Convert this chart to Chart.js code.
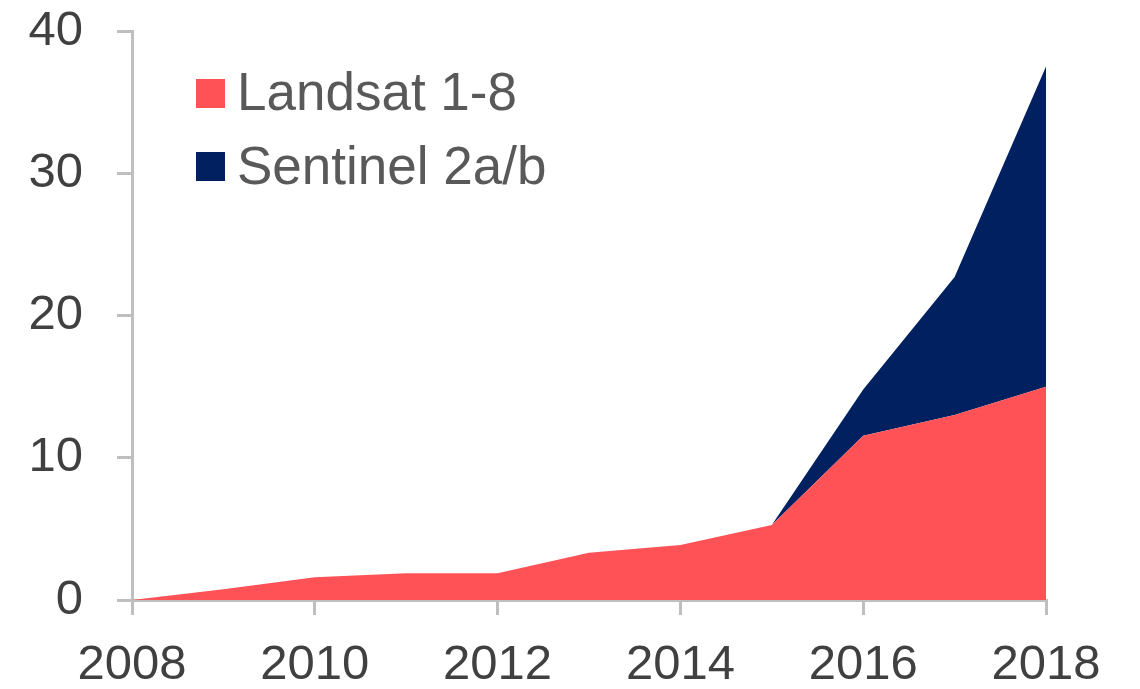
<!DOCTYPE html>
<html>
<head>
<meta charset="utf-8">
<script src="https://cdn.jsdelivr.net/npm/chart.js@4/dist/chart.umd.min.js"></script>
<style>
  html, body { margin: 0; padding: 0; background: #ffffff; }
  #wrap { width: 1140px; height: 689px; position: relative; }
</style>
</head>
<body>
<div id="wrap"><canvas id="c" width="1140" height="689"></canvas></div>
<script>
const years = [2008, 2009, 2010, 2011, 2012, 2013, 2014, 2015, 2016, 2017, 2018];
const landsat = [0, 0.75, 1.6, 1.88, 1.88, 3.33, 3.87, 5.27, 11.55, 13.0, 15.0];
const sentinel = [0, 0, 0, 0, 0, 0, 0, 0, 3.25, 9.7, 22.5];
const seriesNames = ['Landsat 1-8', 'Sentinel 2a/b'];
const seriesColors = ['#FF5257', '#002060'];
const yTicks = [0, 10, 20, 30, 40];
const xTicks = [2008, 2010, 2012, 2014, 2016, 2018];

const FONT = '"Liberation Sans", Arial, sans-serif';
const AXIS = '#BFBFBF';

const legendPlugin = {
  id: 'customLegend',
  afterDraw(chart) {
    const ctx = chart.ctx;
    ctx.save();
    const rows = [{ sq: 79, base: 110 }, { sq: 152, base: 183.5 }];
    chart.data.datasets.forEach((ds, i) => {
      ctx.fillStyle = ds.backgroundColor;
      ctx.fillRect(196, rows[i].sq, 29, 29);
      ctx.fillStyle = '#595959';
      ctx.font = '53px ' + FONT;
      ctx.textBaseline = 'alphabetic';
      ctx.textAlign = 'left';
      ctx.fillText(ds.label, 237, rows[i].base);
    });
    ctx.restore();
  }
};

const ctx = document.getElementById('c').getContext('2d');
new Chart(ctx, {
  type: 'line',
  data: {
    datasets: [
      {
        label: seriesNames[0],
        data: years.map((y, i) => ({ x: y, y: landsat[i] })),
        backgroundColor: seriesColors[0],
        borderColor: seriesColors[0],
        borderWidth: 0,
        pointRadius: 0,
        fill: 'origin',
        tension: 0
      },
      {
        label: seriesNames[1],
        data: years.map((y, i) => ({ x: y, y: sentinel[i] })),
        backgroundColor: seriesColors[1],
        borderColor: seriesColors[1],
        borderWidth: 0,
        pointRadius: 0,
        fill: '-1',
        tension: 0
      }
    ]
  },
  options: {
    responsive: false,
    animation: false,
    devicePixelRatio: 1,
    layout: { padding: { top: 0, right: 94, left: 0, bottom: 0 } },
    plugins: {
      legend: { display: false },
      tooltip: { enabled: false },
      filler: { propagate: false }
    },
    scales: {
      x: {
        type: 'linear',
        z: 1,
        min: 2008,
        max: 2018,
        afterBuildTicks(scale) { scale.ticks = xTicks.map(v => ({ value: v })); },
        afterFit(scale) { scale.height = 89; scale.paddingLeft = 0; scale.paddingRight = 0; },
        border: { display: true, color: AXIS, width: 3 },
        grid: { display: true, drawOnChartArea: false, drawTicks: true, tickLength: 15, color: AXIS, tickColor: AXIS, lineWidth: 3, tickWidth: 3 },
        ticks: {
          color: '#404040',
          font: { family: FONT, size: 49 },
          padding: 21,
          maxRotation: 0,
          autoSkip: false,
          callback: v => String(v)
        }
      },
      y: {
        stacked: true,
        z: 1,
        min: 0,
        max: 40,
        afterBuildTicks(scale) { scale.ticks = yTicks.map(v => ({ value: v })); },
        afterFit(scale) { scale.width = 132; scale.paddingTop = 31; scale.paddingBottom = 0; },
        border: { display: true, color: AXIS, width: 3 },
        grid: { display: true, drawOnChartArea: false, drawTicks: true, tickLength: 15, color: AXIS, tickColor: AXIS, lineWidth: 3, tickWidth: 3 },
        ticks: {
          color: '#404040',
          font: { family: FONT, size: 49 },
          padding: 34,
          callback: v => String(v)
        }
      }
    }
  },
  plugins: [legendPlugin]
});
</script>
</body>
</html>
